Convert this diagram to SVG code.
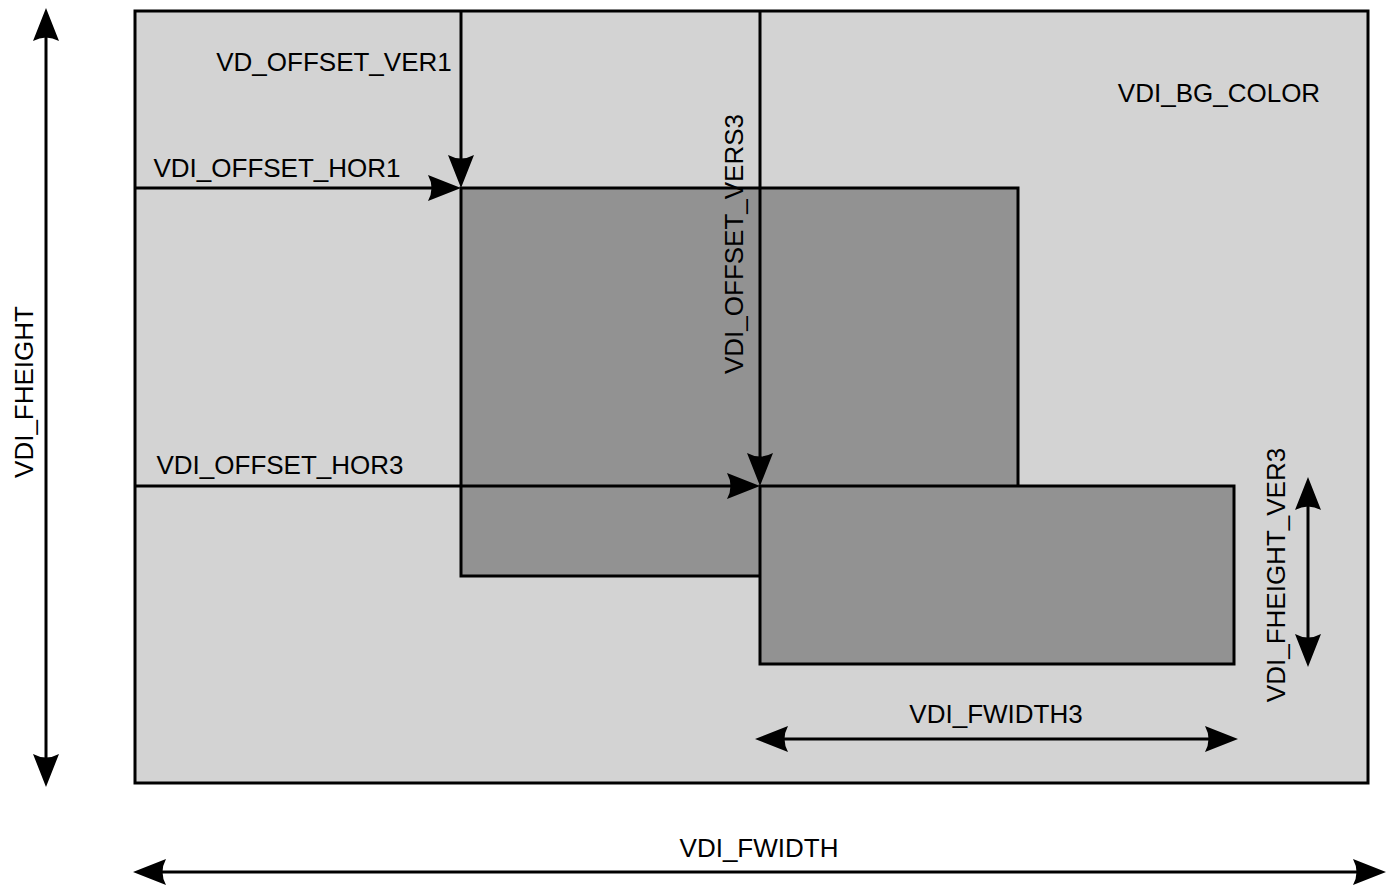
<svg xmlns="http://www.w3.org/2000/svg" width="1389" height="885" viewBox="0 0 1389 885">
<style>
text{font-family:"Liberation Sans",Arial,Helvetica,sans-serif;font-size:26px;fill:#000;text-anchor:middle}
.ln{stroke:#000;stroke-width:3;fill:none}
.bg{fill:#d3d3d3;stroke:#000;stroke-width:3}
.win{fill:#929292;stroke:#000;stroke-width:3}
</style>
<defs>
<marker id="ah" markerUnits="userSpaceOnUse" markerWidth="34" markerHeight="28" viewBox="-33 -14 34 28" refX="-12" refY="0" orient="auto-start-reverse" overflow="visible">
<path d="M0,0 L-33,-13 Q-26,0 -33,13 Z" fill="#000"/>
</marker>
</defs>
<rect width="1389" height="885" fill="#fff"/>
<g id="frame"><rect class="bg" x="135" y="11" width="1233" height="772"/></g>
<g id="window1"><rect class="win" x="461" y="188" width="557" height="388"/></g>
<g id="window3"><rect class="win" x="760" y="486" width="474" height="178"/></g>
<g id="connectors">
<line class="ln" x1="461" y1="11" x2="461" y2="176" marker-end="url(#ah)"/>
<line class="ln" x1="135" y1="188" x2="449" y2="188" marker-end="url(#ah)"/>
<line class="ln" x1="760" y1="11" x2="760" y2="474" marker-end="url(#ah)"/>
<line class="ln" x1="135" y1="486" x2="748" y2="486" marker-end="url(#ah)"/>
<line class="ln" x1="46" y1="20" x2="46" y2="775" marker-start="url(#ah)" marker-end="url(#ah)"/>
<line class="ln" x1="145" y1="872" x2="1374" y2="872" marker-start="url(#ah)" marker-end="url(#ah)"/>
<line class="ln" x1="767" y1="739" x2="1226" y2="739" marker-start="url(#ah)" marker-end="url(#ah)"/>
<line class="ln" x1="1308" y1="489" x2="1308" y2="655" marker-start="url(#ah)" marker-end="url(#ah)"/>
</g>
<g id="labels">
<text x="334" y="71">VD_OFFSET_VER1</text>
<text x="277" y="177">VDI_OFFSET_HOR1</text>
<text x="1219" y="102">VDI_BG_COLOR</text>
<text x="280" y="474">VDI_OFFSET_HOR3</text>
<text x="996" y="723">VDI_FWIDTH3</text>
<text x="759" y="857">VDI_FWIDTH</text>
<text transform="translate(743,244) rotate(-90)">VDI_OFFSET_VERS3</text>
<text transform="translate(33,392) rotate(-90)">VDI_FHEIGHT</text>
<text transform="translate(1285,575) rotate(-90)">VDI_FHEIGHT_VER3</text>
</g>
</svg>
